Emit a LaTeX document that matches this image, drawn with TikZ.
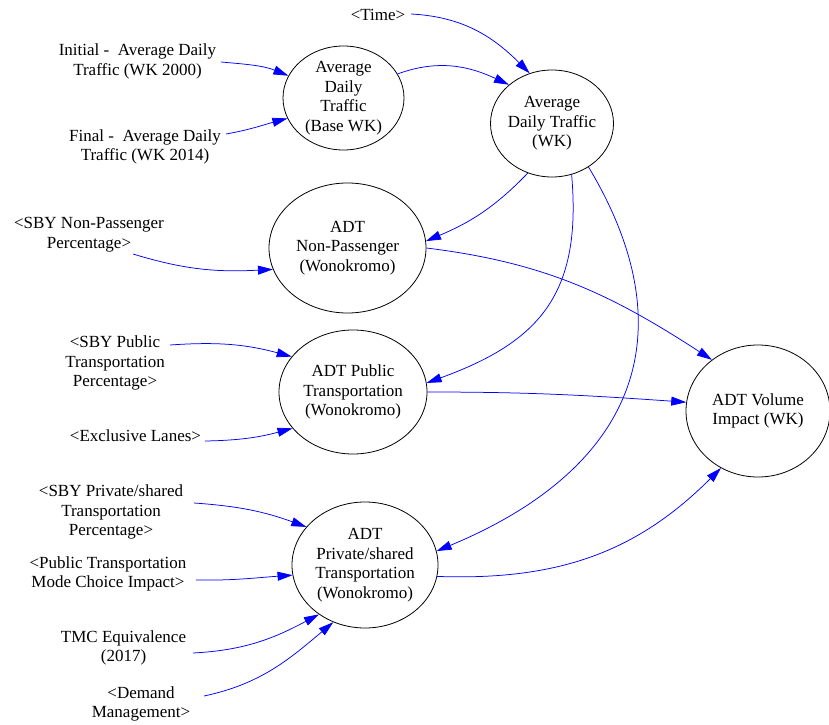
\documentclass[tikz,border=0pt]{standalone}
\usepackage{fontspec}
\setmainfont{Liberation Serif}
\usetikzlibrary{arrows.meta,shapes.geometric}
\definecolor{linkblue}{RGB}{0,0,255}
\begin{document}
\begin{tikzpicture}[x=1pt,y=1pt,
  txt/.style={align=center,inner sep=0pt,font=\fontsize{17}{19.5}\selectfont},
  var/.style={ellipse,draw=black,line width=0.8pt,inner sep=0pt},
  link/.style={draw=linkblue,line width=0.75pt,-{Triangle[length=15pt,width=9pt]}}]
\useasboundingbox (0,0) rectangle (829,724);

% auxiliary variables (ellipses) and their names
\node[var,minimum width=121pt,minimum height=104pt] (base) at (343.5,626) {};
\node[txt] (base-t) at (base) {Average\\Daily\\Traffic\\(Base WK)};
\node[var,minimum width=123pt,minimum height=107pt] (wk) at (552,600.5) {};
\node[txt] (wk-t) at (wk) {Average\\Daily Traffic\\(WK)};
\node[var,minimum width=157pt,minimum height=130pt] (nonp) at (347.5,476) {};
\node[txt] (nonp-t) at (nonp) {ADT\\Non-Passenger\\(Wonokromo)};
\node[var,minimum width=148pt,minimum height=124pt] (pub) at (353,332) {};
\node[txt] (pub-t) at (pub) {ADT Public\\Transportation\\(Wonokromo)};
\node[var,minimum width=146pt,minimum height=126pt] (priv) at (365,159) {};
\node[txt] (priv-t) at (priv) {ADT\\Private/shared\\Transportation\\(Wonokromo)};
\node[var,minimum width=144pt,minimum height=132pt] (vol) at (758,313) {};
\node[txt] (vol-t) at (vol) {ADT Volume\\Impact (WK)};

% inputs and shadow variables
\node[txt] (time) at (378,709) {<Time>};
\node[txt] (init) at (137.5,662.5) {Initial -\ \ Average Daily\\Traffic (WK 2000)};
\node[txt] (final) at (145,577) {Final -\ \ Average Daily\\Traffic (WK 2014)};
\node[txt] (sbynp) at (89,489.5) {<SBY Non-Passenger\\Percentage>};
\node[txt] (sbypub) at (115,361) {<SBY Public\\Transportation\\Percentage>};
\node[txt] (excl) at (135.5,288) {<Exclusive Lanes>};
\node[txt] (sbypriv) at (111,212) {<SBY Private/shared\\Transportation\\Percentage>};
\node[txt] (ptmode) at (108,150) {<Public Transportation\\Mode Choice Impact>};
\node[txt] (tmc) at (123.5,76) {TMC Equivalence\\(2017)};
\node[txt] (demand) at (141,20) {<Demand\\Management>};

% links
\draw[link] ([shift={(33,1)}]time.center) to[out=-3,in=135] (wk.114.4);
\draw[link] ([shift={(83.5,-0.5)}]init.center) to[out=-5,in=158] (base.158.6);
\draw[link] ([shift={(81,13)}]final.center) to[out=10,in=195] (base.200.2);
\draw[link] (base.24.7) to[out=20,in=155] (wk.138.2);

\draw[link] (wk.244.1) to[out=226,in=23] (nonp.5);
\draw[link] (wk.291.8) to[out=-85,in=20,out distance=120pt,in distance=120pt] (pub.7.6);
\draw[link] (wk.310.5) to[out=-59,in=22.6,out distance=190pt,in distance=220pt] (priv.11.3);

\draw[link] ([shift={(44,-19.5)}]sbynp.center) to[out=-17,in=183] (nonp.196.9);
\draw[link] ([shift={(55,18)}]sbypub.center) to[out=4,in=165] (pub.150.9);
\draw[link] ([shift={(69.5,-5)}]excl.center) to[out=1,in=195] (pub.211);
\draw[link] ([shift={(83,9)}]sbypriv.center) to[out=-4,in=160] (priv.147.9);
\draw[link] ([shift={(88,-6)}]ptmode.center) to[out=-1,in=184] (priv.188.7);
\draw[link] ([shift={(69.5,-5)}]tmc.center) to[out=3,in=208] (priv.227.4);
\draw[link] ([shift={(63,8)}]demand.center) to[out=12,in=220] (priv.241.1);

\draw[link] (nonp.0) to[out=-7,in=147,out distance=120pt,in distance=120pt] (vol.132.6);
\draw[link] (pub.0) to[out=0,in=176] (vol.173.6);
\draw[link] (priv.351.7) to[out=-2,in=225,out distance=120pt,in distance=120pt] (vol.237.5);
\end{tikzpicture}
\end{document}
